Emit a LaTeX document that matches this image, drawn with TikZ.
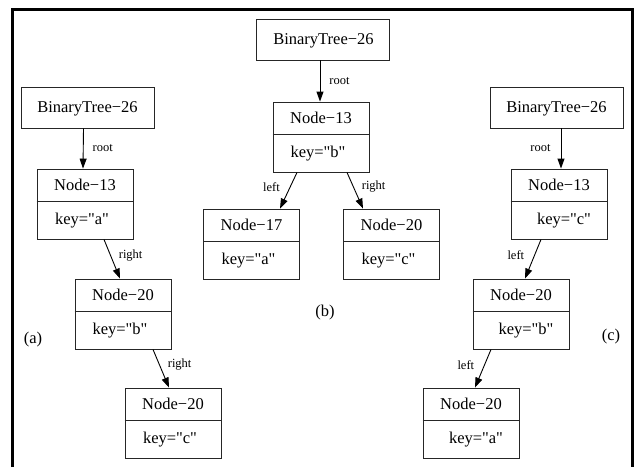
\documentclass[tikz,border=0pt]{standalone}
\usepackage{fontspec}
\setmainfont{Liberation Serif}
\newfontfamily\recfont{Liberation Serif}
\usetikzlibrary{arrows.meta,calc}
\begin{document}
\begin{tikzpicture}[x=1pt,y=-1pt,
  box/.style={draw=black!85, line width=0.9pt, minimum width=96pt, minimum height=70pt, inner sep=0pt},
  tbox/.style={draw=black!85, line width=0.9pt, minimum width=133pt, minimum height=41pt, inner sep=0pt},
  boxline/.style={draw=black!85, line width=0.9pt},
  txt/.style={font=\recfont\fontsize{16.5}{18}\selectfont, inner sep=0pt, anchor=base},
  elab/.style={font=\recfont\fontsize{12.5}{14}\selectfont, inner sep=0pt},
  arr/.style={line width=0.9pt, -{Triangle[length=10pt,width=7pt]}},
  framebox/.style={line width=3pt}]
\useasboundingbox (0,0) rectangle (634,467);
% frame
\coordinate (fl) at (12,467);
\coordinate (ftl) at (12,9);
\coordinate (ftr) at (632,9);
\coordinate (fr) at (632,467);
\draw[framebox] (fl) -- (ftl) -- (ftr) -- (fr);
% macros
\newcommand{\treenode}[4]{% name, cx, top, text offset
  \node[tbox] (#1) at (#2,#3+20.5) {};
  \node[txt] (#1-t) at ($(#1.north)+(#4,26)$) {BinaryTree−26};
}
\newcommand{\recnode}[6]{% name, cx, top, title, key, key offset
  \node[box] (#1) at (#2,#3+35) {};
  \draw[boxline] ($(#1.north west)+(0,33)$) -- ($(#1.north east)+(0,33)$);
  \node[txt] (#1-t) at ($(#1.north)+(0,21.5)$) {#4};
  \node[txt] (#1-k) at ($(#1.north)+(#6,56)$) {#5};
}
% ---------- (a)
\treenode{aT}{87.5}{87}{0}
\recnode{a13}{85}{169}{Node−13}{key="a"}{-3}
\recnode{a20}{123}{279}{Node−20}{key="b"}{-3}
\recnode{a20b}{173}{388}{Node−20}{key="c"}{-3}
\draw[arr] ($(aT.south)+(-4,0)$) -- ($(a13.north)+(-2,0)$) node[elab, pos=0.5, right=9pt] (al1) {root};
\draw[arr] ($(a13.south)+(19,0)$) -- ($(a20.north)+(-3,0)$) node[elab, pos=0.4, right=8pt] (al2) {right};
\draw[arr] ($(a20.south)+(30,0)$) -- ($(a20b.north)+(-4,0)$) node[elab, pos=0.4, right=8pt] (al3) {right};
\node[txt, anchor=center] (la) at (33,340) {(a)};
% ---------- (b)
\treenode{bT}{322.5}{19}{1}
\recnode{b13}{321}{102}{Node−13}{key="b"}{-3}
\recnode{b17}{251.5}{209}{Node−17}{key="a"}{-3}
\recnode{b20}{391.5}{209}{Node−20}{key="c"}{-3}
\draw[arr] ($(bT.south)+(-2.5,0)$) -- ($(b13.north)+(-1,0)$) node[elab, pos=0.5, right=9pt] (bl1) {root};
\draw[arr] ($(b13.south)+(-24,0)$) -- ($(b17.north)+(28.5,0)$) node[elab, pos=0.4, left=10pt] (bl2) {left};
\draw[arr] ($(b13.south)+(26,0)$) -- ($(b20.north)+(-28.5,0)$) node[elab, pos=0.4, right=8pt] (bl3) {right};
\node[txt, anchor=center] (lb) at (325,313) {(b)};
% ---------- (c)
\treenode{cT}{556.5}{87}{0}
\recnode{c13}{559}{169}{Node−13}{key="c"}{5}
\recnode{c20}{521}{279}{Node−20}{key="b"}{5}
\recnode{c20b}{471}{388}{Node−20}{key="a"}{5}
\draw[arr] ($(cT.south)+(4.5,0)$) -- ($(c13.north)+(2,0)$) node[elab, pos=0.5, left=10pt] (cl1) {root};
\draw[arr] ($(c13.south)+(-18,0)$) -- ($(c20.north)+(4,0)$) node[elab, pos=0.4, left=10pt] (cl2) {left};
\draw[arr] ($(c20.south)+(-30,0)$) -- ($(c20b.north)+(4,0)$) node[elab, pos=0.4, left=10pt] (cl3) {left};
\node[txt, anchor=center] (lc) at (611,337) {(c)};
\end{tikzpicture}
\end{document}
